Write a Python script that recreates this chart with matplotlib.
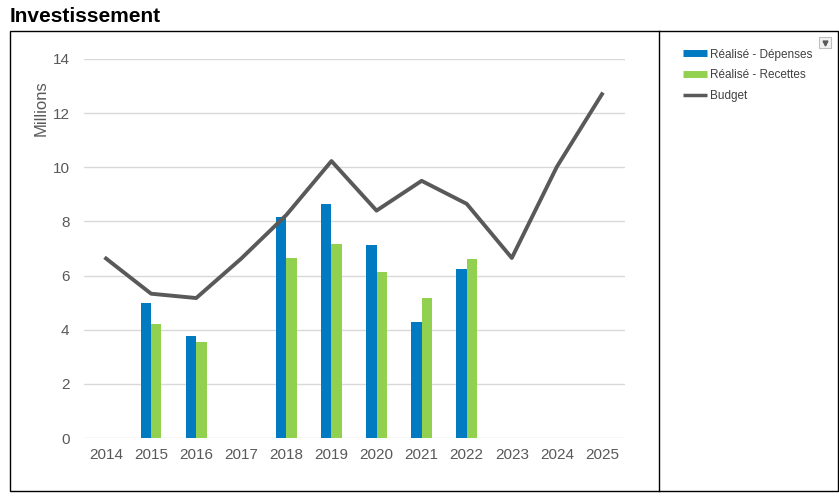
import numpy as np
import matplotlib.pyplot as plt
from matplotlib.lines import Line2D
from matplotlib.patches import Rectangle

plt.rcParams['font.family'] = ['Liberation Sans', 'DejaVu Sans']

years = ['2014', '2015', '2016', '2017', '2018', '2019', '2020', '2021',
         '2022', '2023', '2024', '2025']
depenses = [np.nan, 5.0, 3.75, np.nan, 8.15, 8.63, 7.14, 4.3, 6.25,
            np.nan, np.nan, np.nan]
recettes = [np.nan, 4.22, 3.56, np.nan, 6.65, 7.18, 6.14, 5.18, 6.6,
            np.nan, np.nan, np.nan]
budget = [6.63, 5.33, 5.17, 6.63, 8.24, 10.23, 8.4, 9.5, 8.65, 6.65,
          10.02, 12.7]

W, H = 839, 496
fig = plt.figure(figsize=(W / 100, H / 100), dpi=100)

# cadre
fig.patches.append(Rectangle((10 / W, 1 - 491 / H), 828 / W, 460 / H,
                             transform=fig.transFigure, fill=False,
                             edgecolor='black', linewidth=1))
fig.add_artist(Line2D([659 / W, 659 / W], [1 - 491 / H, 1 - 31 / H],
                      transform=fig.transFigure, color='black', linewidth=1))
fig.text(10 / W, 1 - 16 / H, 'Investissement', fontsize=15,
         fontweight='bold', va='center', ha='left')

# petit bouton
fig.patches.append(Rectangle((819 / W, 1 - 48 / H), 12 / W, 11 / H,
                             transform=fig.transFigure, facecolor='#f2f2f2',
                             edgecolor='#bfbfbf', linewidth=0.8))
fig.add_artist(Line2D([825 / W], [1 - 42.5 / H], transform=fig.transFigure,
                      marker='v', markersize=3.5, color='#595959',
                      linestyle='none'))

ax = fig.add_axes([83.5 / W, 1 - 438 / H, 541 / W, 379 / H])
x = np.arange(len(years))
bw = 0.23
ax.bar(x - bw / 2, depenses, bw, color='#007ac0', zorder=2)
ax.bar(x + bw / 2, recettes, bw, color='#92d050', zorder=2)
ax.plot(x, budget, color='#595959', linewidth=2.8, zorder=3)

ax.set_xlim(-0.5, 11.5)
ax.set_ylim(0, 14)
ax.set_yticks(range(0, 15, 2))
ax.set_xticks(x)
ax.set_xticklabels(years)
ax.grid(axis='y', color='#d9d9d9', linewidth=1)
ax.set_axisbelow(True)
for s in ax.spines.values():
    s.set_visible(False)
ax.tick_params(length=0, labelsize=11, colors='#595959', pad=7)
ax.tick_params(axis='y', pad=10)
ax.set_ylabel('Millions', fontsize=12, color='#595959')
ax.yaxis.set_label_coords(-0.065, 0.87)

handles = [Line2D([], [], color='#007ac0', linewidth=5, solid_capstyle='butt'),
           Line2D([], [], color='#92d050', linewidth=5, solid_capstyle='butt'),
           Line2D([], [], color='#595959', linewidth=2.5, solid_capstyle='butt')]
fig.legend(handles, ['Réalisé - Dépenses', 'Réalisé - Recettes', 'Budget'],
           loc='upper left', bbox_to_anchor=(672 / W, 1 - 38 / H),
           frameon=False, fontsize=8.5, handlelength=2.1, handletextpad=0.2,
           labelspacing=0.75, labelcolor='#404040')

fig.savefig('out.png', dpi=100)
